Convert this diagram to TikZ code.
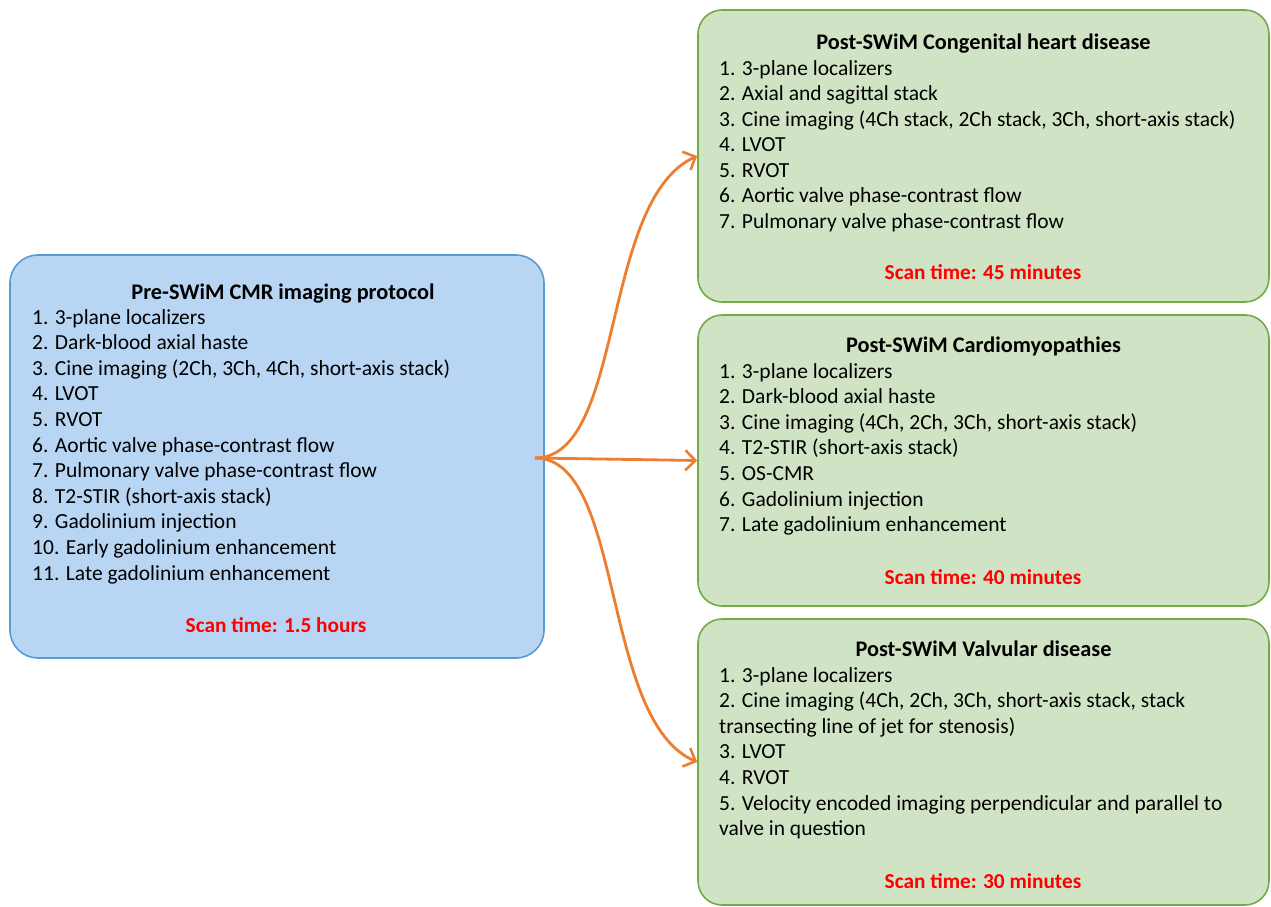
\documentclass[tikz,border=0pt]{standalone}
\usepackage{fontspec}
\setmainfont{Carlito}
\usetikzlibrary{arrows.meta}
\definecolor{bluefill}{HTML}{B8D6F3}
\definecolor{blueline}{HTML}{5B9BD5}
\definecolor{greenfill}{HTML}{D0E4C5}
\definecolor{greenline}{HTML}{70AD47}
\definecolor{arrowor}{HTML}{ED7D31}
\definecolor{scanred}{HTML}{FF0000}
\tikzset{
  prebox/.style={draw=blueline, fill=bluefill, line width=1.6pt, rounded corners=28pt, inner sep=0pt},
  postbox/.style={draw=greenline, fill=greenfill, line width=1.6pt, rounded corners=24pt, inner sep=0pt, minimum width=571pt},
  ttl/.style={anchor=base, inner sep=0pt, font=\fontsize{22.3}{26}\selectfont\bfseries},
  item/.style={anchor=base west, inner sep=0pt, font=\fontsize{21.5}{25}\selectfont},
  scan/.style={anchor=base, inner sep=0pt, text=scanred, font=\fontsize{21.3}{25}\selectfont\bfseries},
  conn/.style={draw=arrowor, line width=2.8pt, -{Straight Barb[length=10pt,width=20pt,line width=2.6pt]}}
}
\begin{document}
\begin{tikzpicture}[x=1pt,y=-1pt]
\useasboundingbox (0,0) rectangle (1271,907);
% boxes
\node[prebox, minimum width=534pt, minimum height=403pt] (pre) at (277,456.5) {};
\node[postbox, minimum height=292pt] (chd) at (983.5,156) {};
\node[postbox, minimum height=291pt] (cm) at (983.5,460.5) {};
\node[postbox, minimum height=286pt] (vd) at (983.5,762) {};
% pre box text
\node[ttl] (pret) at (283,299) {Pre-SWiM CMR imaging protocol};
\foreach \t [count=\i] in {{1. 3-plane localizers},{2. Dark-blood axial haste},{3. Cine imaging (2Ch, 3Ch, 4Ch, short-axis stack)},{4. LVOT},{5. RVOT},{6. Aortic valve phase-contrast flow},{7. Pulmonary valve phase-contrast flow},{8. T2-STIR (short-axis stack)},{9. Gadolinium injection},{10. Early gadolinium enhancement},{11. Late gadolinium enhancement}}
  \node[item] (pre\i) at (32,{324+(\i-1)*25.6}) {\t};
\node[scan] (pres) at (276,632) {Scan time: 1.5 hours};
% congenital
\node[ttl] (chdt) at (983.5,49) {Post-SWiM Congenital heart disease};
\foreach \t [count=\i] in {{1. 3-plane localizers},{2. Axial and sagittal stack},{3. Cine imaging (4Ch stack, 2Ch stack, 3Ch, short-axis stack)},{4. LVOT},{5. RVOT},{6. Aortic valve phase-contrast flow},{7. Pulmonary valve phase-contrast flow}}
  \node[item] (chd\i) at (719,{75+(\i-1)*25.5}) {\t};
\node[scan] (chds) at (983,279) {Scan time: 45 minutes};
% cardiomyopathies
\node[ttl] (cmt) at (983.5,352) {Post-SWiM Cardiomyopathies};
\foreach \t [count=\i] in {{1. 3-plane localizers},{2. Dark-blood axial haste},{3. Cine imaging (4Ch, 2Ch, 3Ch, short-axis stack)},{4. T2-STIR (short-axis stack)},{5. OS-CMR},{6. Gadolinium injection},{7. Late gadolinium enhancement}}
  \node[item] (cm\i) at (719,{378+(\i-1)*25.6}) {\t};
\node[scan] (cms) at (983,584) {Scan time: 40 minutes};
% valvular
\node[ttl] (vdt) at (983.5,656) {Post-SWiM Valvular disease};
\foreach \t [count=\i] in {{1. 3-plane localizers},{2. Cine imaging (4Ch, 2Ch, 3Ch, short-axis stack, stack},{transecting line of jet for stenosis)},{3. LVOT},{4. RVOT},{5. Velocity encoded imaging perpendicular and parallel to},{valve in question}}
  \node[item] (vd\i) at (719,{682+(\i-1)*25.6}) {\t};
\node[scan] (vds) at (983,888) {Scan time: 30 minutes};
% connectors
\coordinate (src) at (535,458);
\draw[conn] (src) .. controls (625,458) and (600,200) .. (chd.west);
\draw[conn] (src) -- (cm.west);
\draw[conn] (src) .. controls (625,458) and (600,720) .. (vd.west);
\end{tikzpicture}
\end{document}
